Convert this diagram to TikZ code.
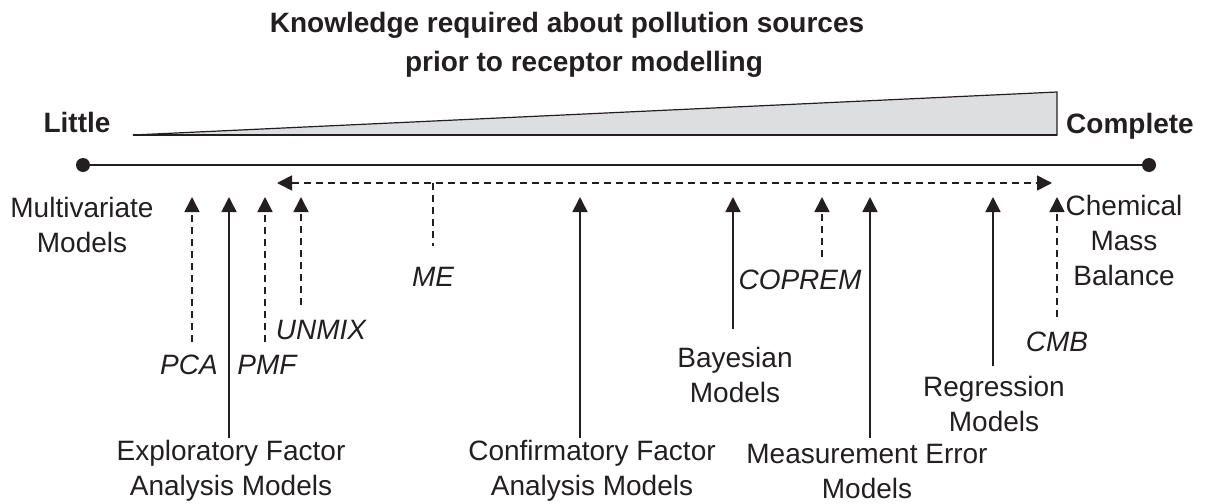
\documentclass[tikz,border=0pt]{standalone}
\usepackage{fontspec}
\setmainfont{Liberation Sans}
\usetikzlibrary{positioning,calc,arrows.meta}

\definecolor{ink}{RGB}{35,31,32}
\definecolor{wedgegray}{RGB}{221,222,224}

\tikzset{
   lbl/.style    ={font=\fontsize{14}{17.5}\selectfont, align=center,
                   inner sep=0pt, text=ink},
   src/.style    ={lbl, font=\fontsize{14}{17.5}\selectfont\itshape},
   head/.style   ={lbl, font=\fontsize{14}{19}\selectfont\bfseries},
   dot/.style    ={circle, fill=ink, inner sep=0pt, minimum size=7pt},
   axis/.style   ={draw=ink, line width=1pt},
   up/.style     ={draw=ink, line width=0.8pt,
                   -{Triangle[length=7.5pt,width=7.5pt]}},
   updash/.style ={up, dash pattern=on 3.5pt off 2.5pt},
}

\begin{document}
\begin{tikzpicture}[x=0.5pt,y=-0.5pt]
   \useasboundingbox (0,0) rectangle (1207,504);

   % heading
   \node[head] (ttl1) at (567,25) {Knowledge required about pollution sources};
   \node[head] (ttl2) at (584,64) {prior to receptor modelling};

   \node[head] (little)   at (77,122)  {Little};
   \node[head] (complete) at (1130,126) {Complete};

   % knowledge wedge
   \draw[draw=ink, fill=wedgegray, line width=0.6pt]
      (133,135) -- (1057,135) -- (1057,92) -- cycle;
   \draw[draw=ink, line width=0.9pt] (133,135) -- (1057,135);

   % axis
   \node[dot] (lend) at (83,165)   {};
   \node[dot] (rend) at (1149,165) {};
   \draw[axis] (lend) -- (rend);

   \node[lbl] (multi) at (82,225)   {Multivariate\\Models};
   \node[lbl] (chem)  at (1124,240) {Chemical\\Mass\\Balance};

   % ME spans the whole range
   \coordinate (me-l)  at (277,183);
   \coordinate (me-r)  at (1052,183);
   \coordinate (me-t)  at (433,183);
   \coordinate (me-ft) at (433,246);
   \draw[up, dash pattern=on 3.5pt off 2.5pt,
         {Triangle[length=7.5pt,width=7.5pt]}-{Triangle[length=7.5pt,width=7.5pt]}]
      (me-l) -- (me-r);
   \draw[draw=ink, line width=0.8pt, dash pattern=on 3.5pt off 2.5pt]
      (me-t) -- (me-ft);
   \node[src] (me) at (433,277) {ME};

   % factor analysis side
   \coordinate (pca-ft)   at (192,342);  \coordinate (pca-tp)   at (192,197);
   \coordinate (efa-ft)   at (229,438);  \coordinate (efa-tp)   at (229,197);
   \coordinate (pmf-ft)   at (265,342);  \coordinate (pmf-tp)   at (265,197);
   \coordinate (unmix-ft) at (301,305);  \coordinate (unmix-tp) at (301,197);
   \coordinate (cfa-ft)   at (580,438);  \coordinate (cfa-tp)   at (580,197);

   \draw[updash] (pca-ft)   -- (pca-tp);
   \draw[up]     (efa-ft)   -- (efa-tp);
   \draw[updash] (pmf-ft)   -- (pmf-tp);
   \draw[updash] (unmix-ft) -- (unmix-tp);
   \draw[up]     (cfa-ft)   -- (cfa-tp);

   \node[src] (pca)   at (189,365) {PCA};
   \node[src] (pmf)   at (267,365) {PMF};
   \node[src] (unmix) at (321,330) {UNMIX};
   \node[lbl] (efa)   at (231,471) {Exploratory Factor\\Analysis Models};
   \node[lbl] (cfa)   at (592,471) {Confirmatory Factor\\Analysis Models};

   % source profile side
   \coordinate (bay-ft)   at (733,329);  \coordinate (bay-tp)   at (733,197);
   \coordinate (cop-ft)   at (822,257);  \coordinate (cop-tp)   at (822,197);
   \coordinate (mem-ft)   at (870,438);  \coordinate (mem-tp)   at (870,197);
   \coordinate (reg-ft)   at (993,366);  \coordinate (reg-tp)   at (993,197);
   \coordinate (cmb-ft)   at (1057,317); \coordinate (cmb-tp)   at (1057,197);

   \draw[up]     (bay-ft) -- (bay-tp);
   \draw[updash] (cop-ft) -- (cop-tp);
   \draw[up]     (mem-ft) -- (mem-tp);
   \draw[up]     (reg-ft) -- (reg-tp);
   \draw[updash] (cmb-ft) -- (cmb-tp);

   \node[lbl] (bay) at (735,375)  {Bayesian\\Models};
   \node[src] (cop) at (800,280)  {COPREM};
   \node[lbl] (mem) at (867,471)  {Measurement Error\\Models};
   \node[lbl] (reg) at (994,404)  {Regression\\Models};
   \node[src] (cmb) at (1057,342) {CMB};
\end{tikzpicture}
\end{document}
